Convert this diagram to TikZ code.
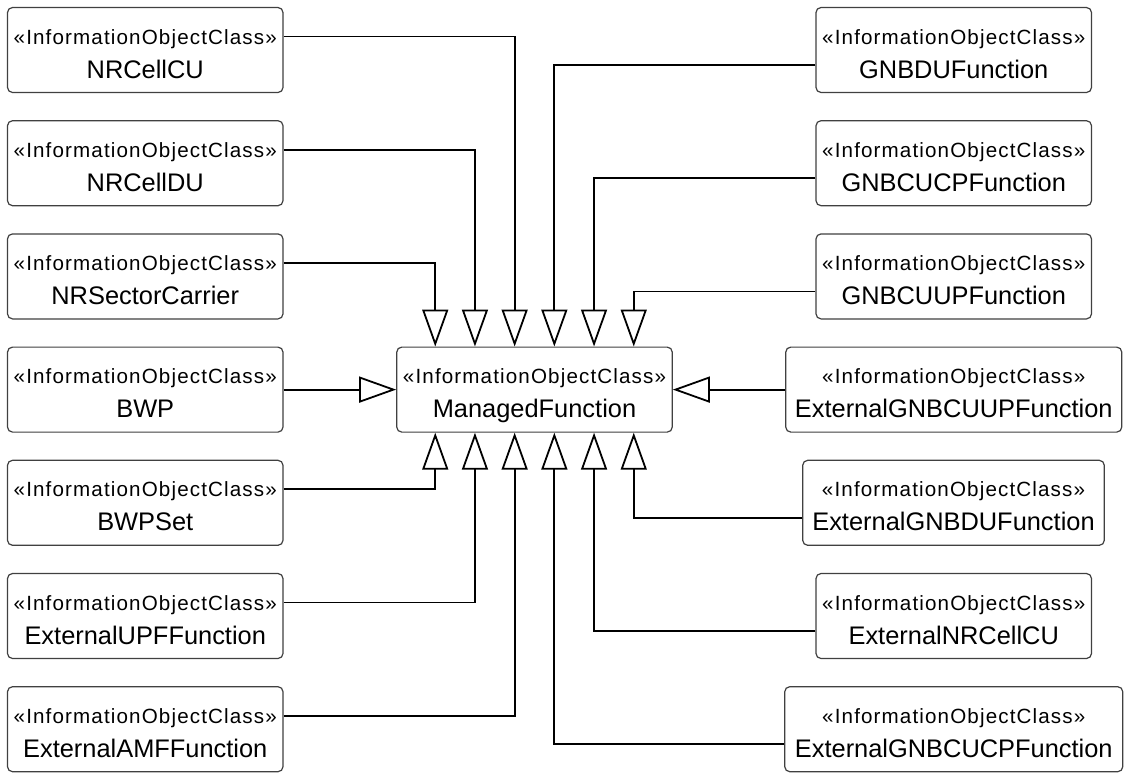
\documentclass[tikz,border=0pt]{standalone}
\usepackage{fontspec}
\setmainfont{Liberation Sans}
\newfontfamily\stfam[LetterSpace=5.5]{Liberation Sans}
\usetikzlibrary{arrows.meta}
\newcommand\umlbox[5]{%
  \node[box, minimum width=#4pt] (#1) at (#2,#3) {};
  \node[sttext] at ([yshift=6pt]#1.center) {«InformationObjectClass»};
  \node[nmtext] at ([yshift=-28pt]#1.center) {#5};
}
\begin{document}
\begin{tikzpicture}[x=1pt,y=-1pt,
  box/.style={draw=black!75, line width=1.2pt, rounded corners=5pt, fill=white, minimum height=85pt, inner sep=0pt},
  sttext/.style={anchor=base, inner sep=0pt, font=\stfam\fontsize{20.6}{22}\selectfont},
  nmtext/.style={anchor=base, inner sep=0pt, font=\fontsize{25.4}{28}\selectfont},
  gen/.style={draw=black, line width=1.8pt, -{Triangle[open,length=37pt,width=26pt]}}]
\useasboundingbox (0,0) rectangle (1125,772);
\umlbox{nrcellcu}{145.25}{50}{275.5}{NRCellCU}
\umlbox{nrcelldu}{145.25}{163.2}{275.5}{NRCellDU}
\umlbox{nrsc}{145.25}{276.4}{275.5}{NRSectorCarrier}
\umlbox{bwp}{145.25}{389.6}{275.5}{BWP}
\umlbox{bwpset}{145.25}{502.8}{275.5}{BWPSet}
\umlbox{extupf}{145.25}{616}{275.5}{ExternalUPFFunction}
\umlbox{extamf}{145.25}{729.2}{275.5}{ExternalAMFFunction}
\umlbox{mf}{534.5}{389.6}{275.5}{ManagedFunction}
\umlbox{gnbdu}{953.75}{50}{275.5}{GNBDUFunction}
\umlbox{gnbcucp}{953.75}{163.2}{275.5}{GNBCUCPFunction}
\umlbox{gnbcuup}{953.75}{276.4}{275.5}{GNBCUUPFunction}
\umlbox{extgnbcuup}{953.75}{389.6}{336}{ExternalGNBCUUPFunction}
\umlbox{extgnbdu}{953.5}{502.8}{301.6}{ExternalGNBDUFunction}
\umlbox{extnrcellcu}{953.75}{616}{275.5}{ExternalNRCellCU}
\umlbox{extgnbcucp}{953.75}{729.2}{338}{ExternalGNBCUCPFunction}
\foreach \i/\dx in {0/-99.25,1/-59.55,2/-19.85,3/19.85,4/59.55,5/99.25} {
  \coordinate (t\i) at ([xshift=\dx pt]mf.north);
  \coordinate (b\i) at ([xshift=\dx pt]mf.south);
}
\draw[gen] ([yshift=13.5pt]nrcellcu.east) -| (t2);
\draw[gen] ([yshift=13.5pt]nrcelldu.east) -| (t1);
\draw[gen] ([yshift=13.5pt]nrsc.east) -| (t0);
\draw[gen] ([yshift=-15pt]gnbdu.west) -| (t3);
\draw[gen] ([yshift=-15pt]gnbcucp.west) -| (t4);
\draw[gen] ([yshift=-15pt]gnbcuup.west) -| (t5);
\draw[gen] (bwp.east) -- (mf.west);
\draw[gen] (extgnbcuup.west) -- (mf.east);
\draw[gen] ([yshift=13.5pt]bwpset.east) -| (b0);
\draw[gen] ([yshift=13.5pt]extupf.east) -| (b1);
\draw[gen] ([yshift=13.5pt]extamf.east) -| (b2);
\draw[gen] ([yshift=-15pt]extgnbcucp.west) -| (b3);
\draw[gen] ([yshift=-15pt]extnrcellcu.west) -| (b4);
\draw[gen] ([yshift=-15pt]extgnbdu.west) -| (b5);
\end{tikzpicture}
\end{document}
